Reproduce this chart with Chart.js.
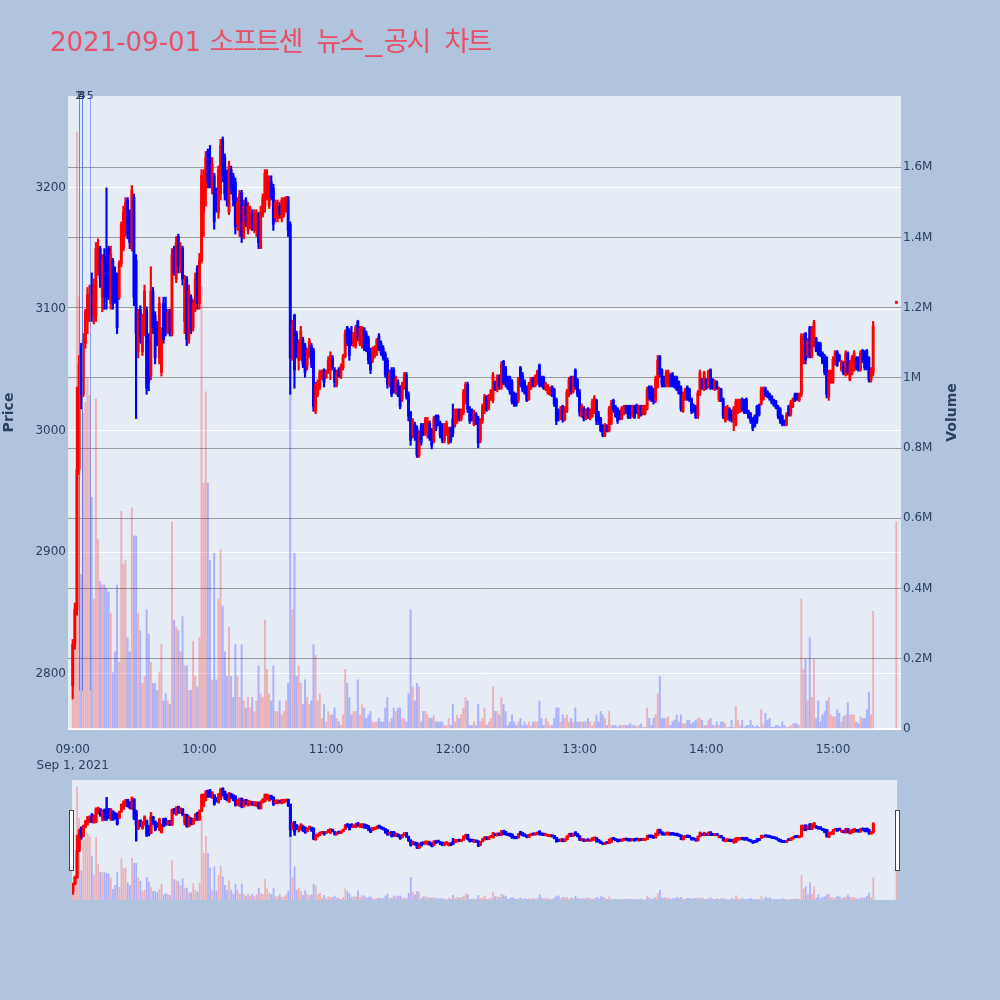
<!DOCTYPE html>
<html>
<head>
<meta charset="utf-8">
<script src="https://cdn.jsdelivr.net/npm/chart.js@4.4.1/dist/chart.umd.min.js"></script>
<style>
html,body{margin:0;padding:0;background:#b0c4de;width:1000px;height:1000px;overflow:hidden;}
#main{position:absolute;left:0;top:0;}
#slider{position:absolute;left:62px;top:775px;}
</style>
</head>
<body>
<canvas id="main" width="1000" height="1000"></canvas>
<canvas id="slider" width="845" height="130"></canvas>
<script>
// ---------------- DATA ----------------
const chartTitle = '2021-09-01 소프트센 뉴스_공시 차트';
const dateLabel = 'Sep 1, 2021';
const xTickLabels = ['09:00','10:00','11:00','12:00','13:00','14:00','15:00'];
const priceTicks = [2800, 2900, 3000, 3100, 3200];
const volumeTicksK = [0, 200, 400, 600, 800, 1000, 1200, 1400, 1600];

// one-minute candles 09:00 .. 15:19, plus closing auction 15:30
function pad(n){ return (n < 10 ? '0' : '') + n; }
const times = [];
for (let k = 0; k < 380; k++) times.push(pad(9 + Math.floor(k / 60)) + ':' + pad(k % 60));
times.push('15:30');

const opens = [
2790,2824,2853,2968,3068,3030,3072,3090,3096,3120,
3095,3095,3130,3150,3110,3145,3140,3150,3105,3140,
3130,3128,3110,3138,3150,3165,3190,3180,3150,3192,
3140,3065,3100,3065,3080,3100,3075,3045,3115,3095,
3085,3060,3048,3105,3100,3082,3098,3080,3150,3125,
3160,3135,3150,3090,3125,3075,3110,3085,3100,3134,
3105,3140,3180,3200,3230,3225,3200,3210,3195,3180,
3195,3240,3225,3210,3180,3215,3210,3205,3170,3165,
3196,3160,3190,3165,3170,3180,3165,3165,3178,3150,
3178,3185,3200,3185,3205,3200,3175,3175,3185,3175,
3178,3182,3192,3170,3061,3095,3080,3058,3061,3075,
3070,3053,3061,3070,3066,3016,3030,3036,3044,3050,
3044,3049,3050,3060,3050,3038,3050,3044,3052,3061,
3085,3082,3075,3070,3070,3090,3072,3070,3084,3080,
3076,3065,3058,3062,3064,3078,3072,3068,3063,3058,
3038,3050,3050,3032,3040,3035,3026,3036,3046,3030,
3015,2996,3005,3002,2980,3004,3004,2998,3000,3006,
3000,2992,3012,3012,3006,3004,2992,2998,2990,3002,
3010,3005,3008,3017,3010,3015,3025,3038,3018,3016,
3005,3014,3010,2992,3008,3016,3028,3018,3027,3025,
3040,3034,3044,3036,3057,3052,3044,3044,3040,3030,
3030,3025,3052,3046,3040,3036,3026,3035,3043,3037,
3040,3054,3044,3044,3034,3031,3030,3036,3034,3026,
3016,3010,3020,3009,3016,3030,3044,3032,3050,3042,
3032,3012,3018,3010,3018,3010,3012,3015,3025,3014,
3010,3004,2996,3004,3000,3006,3025,3020,3018,3016,
3010,3014,3020,3020,3020,3012,3020,3021,3011,3020,
3014,3014,3018,3036,3036,3034,3025,3036,3061,3050,
3044,3038,3038,3046,3046,3044,3044,3040,3036,3016,
3026,3036,3034,3026,3020,3020,3012,3030,3042,3034,
3042,3036,3050,3042,3034,3040,3026,3034,3026,3008,
3010,3018,3016,3008,3005,3015,3016,3026,3025,3026,
3016,3014,3010,3012,3020,3021,3022,3026,3035,3032,
3030,3028,3025,3024,3020,3018,3012,3008,3005,3020,
3014,3020,3030,3030,3025,3030,3056,3080,3062,3085,
3062,3070,3076,3072,3072,3064,3062,3060,3028,3040,
3040,3055,3065,3062,3050,3056,3046,3064,3042,3047,
3050,3060,3060,3050,3066,3065,3066,3060,3042,3048,
3105];

const highs = [
2828,2858,3036,3062,3072,3080,3100,3118,3120,3130,
3125,3155,3158,3152,3145,3150,3200,3152,3152,3142,
3135,3130,3140,3172,3185,3192,3192,3182,3202,3195,
3145,3100,3103,3096,3120,3102,3080,3135,3118,3098,
3090,3110,3085,3110,3110,3100,3100,3150,3152,3160,
3162,3155,3152,3128,3127,3120,3112,3108,3130,3136,
3146,3215,3215,3230,3232,3235,3225,3212,3200,3218,
3240,3242,3228,3215,3222,3218,3212,3208,3192,3198,
3198,3190,3192,3188,3185,3182,3182,3182,3180,3185,
3195,3215,3215,3210,3210,3203,3190,3190,3188,3192,
3192,3193,3193,3172,3091,3096,3082,3075,3086,3077,
3072,3068,3076,3072,3068,3040,3042,3050,3050,3051,
3050,3061,3065,3062,3052,3050,3052,3055,3063,3083,
3086,3084,3086,3081,3087,3091,3086,3086,3085,3082,
3078,3068,3069,3070,3076,3080,3074,3070,3065,3060,
3050,3052,3052,3045,3042,3037,3040,3048,3048,3032,
3016,3010,3007,3004,3000,3006,3006,3011,3011,3008,
3002,3012,3013,3013,3008,3006,3006,3008,3003,3003,
3022,3018,3018,3018,3018,3034,3040,3040,3020,3018,
3017,3015,3012,3010,3022,3030,3029,3030,3034,3048,
3041,3046,3046,3057,3058,3053,3045,3045,3042,3032,
3031,3044,3053,3048,3042,3037,3040,3044,3044,3046,
3050,3055,3045,3045,3040,3038,3036,3037,3035,3027,
3018,3020,3021,3020,3034,3044,3045,3045,3051,3043,
3034,3022,3020,3018,3019,3018,3026,3029,3026,3016,
3011,3005,3006,3005,3020,3025,3026,3021,3019,3017,
3020,3021,3021,3021,3021,3021,3021,3022,3021,3021,
3021,3021,3036,3037,3037,3035,3045,3062,3062,3051,
3045,3050,3050,3047,3048,3045,3045,3041,3037,3032,
3035,3037,3035,3027,3022,3021,3033,3050,3043,3049,
3043,3050,3051,3043,3042,3041,3036,3035,3027,3020,
3021,3019,3017,3020,3026,3026,3026,3027,3026,3027,
3017,3015,3011,3013,3021,3022,3036,3036,3036,3033,
3031,3029,3026,3025,3021,3019,3013,3009,3015,3021,
3025,3027,3031,3031,3031,3080,3080,3081,3076,3086,
3086,3091,3077,3073,3073,3065,3063,3061,3050,3050,
3061,3066,3066,3063,3058,3057,3066,3065,3058,3062,
3066,3061,3061,3066,3067,3066,3067,3061,3052,3090,
3105];

const lows = [
2779,2820,2848,2964,3018,3028,3068,3080,3090,3090,
3088,3090,3128,3118,3098,3100,3100,3108,3100,3100,
3105,3080,3108,3135,3148,3160,3158,3150,3148,3103,
3010,3060,3072,3062,3078,3030,3033,3042,3080,3055,
3070,3055,3045,3072,3078,3080,3078,3078,3128,3122,
3130,3130,3120,3080,3070,3072,3080,3082,3098,3100,
3100,3138,3160,3185,3200,3200,3195,3166,3180,3175,
3190,3205,3190,3185,3178,3195,3185,3162,3165,3160,
3155,3158,3168,3162,3166,3165,3163,3160,3150,3150,
3176,3180,3190,3183,3190,3165,3172,3172,3175,3172,
3176,3180,3160,3030,3058,3035,3060,3050,3058,3052,
3044,3050,3060,3052,3016,3014,3028,3034,3042,3036,
3043,3047,3042,3050,3036,3036,3044,3043,3050,3060,
3070,3058,3070,3069,3068,3074,3070,3068,3066,3065,
3055,3047,3056,3060,3062,3066,3062,3058,3044,3035,
3036,3028,3031,3030,3028,3018,3024,3034,3026,3008,
2988,2994,2992,2978,2978,2988,2996,2996,2994,2992,
2985,2990,3000,3004,2994,2990,2990,2996,2989,2990,
2995,3003,3006,3008,3008,3013,3022,3015,3006,3008,
3004,3005,2986,2990,3006,3014,3016,3017,3025,3023,
3033,3032,3034,3034,3038,3036,3034,3030,3022,3020,
3020,3023,3036,3032,3030,3024,3025,3034,3036,3036,
3038,3036,3036,3034,3033,3030,3029,3028,3020,3005,
3008,3009,3007,3008,3015,3028,3030,3031,3034,3028,
3012,3011,3008,3009,3010,3009,3011,3014,3005,3005,
2999,2995,2995,2999,2999,3005,3015,3011,3006,3009,
3009,3013,3014,3010,3010,3011,3010,3014,3010,3012,
3013,3013,3017,3025,3024,3022,3023,3035,3044,3036,
3036,3036,3036,3036,3036,3035,3033,3030,3016,3015,
3025,3025,3024,3014,3015,3010,3010,3029,3034,3033,
3034,3035,3034,3034,3033,3034,3024,3024,3010,3007,
3009,3008,3007,3000,3004,3014,3015,3016,3014,3014,
3010,3006,3000,3003,3006,3012,3021,3025,3028,3027,
3025,3022,3020,3018,3010,3006,3004,3004,3004,3012,
3012,3019,3024,3025,3024,3028,3055,3055,3060,3060,
3060,3069,3065,3062,3061,3055,3046,3027,3025,3039,
3039,3054,3053,3057,3049,3046,3045,3046,3041,3046,
3049,3050,3049,3049,3056,3050,3050,3040,3040,3045,
3105];

const closes = [
2824,2853,2968,3055,3030,3075,3098,3112,3108,3095,
3120,3150,3150,3125,3140,3110,3110,3115,3145,3105,
3110,3085,3138,3170,3180,3188,3162,3155,3198,3110,
3080,3098,3078,3095,3115,3035,3040,3115,3085,3060,
3072,3105,3080,3075,3082,3098,3080,3145,3130,3155,
3135,3152,3125,3122,3075,3115,3085,3105,3125,3105,
3140,3210,3205,3225,3205,3210,3220,3172,3185,3215,
3235,3210,3195,3190,3218,3198,3190,3168,3188,3195,
3160,3185,3172,3185,3183,3168,3180,3178,3155,3180,
3192,3212,3210,3205,3192,3170,3188,3185,3178,3190,
3188,3192,3165,3060,3088,3050,3062,3072,3082,3055,
3048,3066,3074,3055,3020,3038,3040,3048,3049,3040,
3049,3058,3062,3052,3040,3048,3045,3053,3061,3080,
3072,3062,3072,3080,3085,3076,3084,3084,3068,3066,
3058,3050,3068,3069,3075,3068,3064,3060,3046,3038,
3048,3030,3033,3043,3030,3020,3038,3046,3028,3012,
2992,3008,2995,2980,2998,2990,2998,3010,3008,2994,
2988,3010,3002,3006,2996,2992,3004,3006,3001,2992,
2998,3016,3017,3010,3017,3032,3038,3018,3008,3010,
3015,3006,2990,3008,3020,3028,3018,3029,3033,3046,
3034,3044,3036,3055,3040,3038,3035,3032,3024,3022,
3021,3042,3038,3034,3031,3025,3038,3043,3037,3045,
3049,3038,3037,3035,3039,3037,3035,3029,3022,3008,
3010,3018,3009,3019,3032,3042,3032,3044,3036,3030,
3015,3020,3010,3017,3012,3017,3024,3027,3008,3008,
3000,2996,3004,3000,3018,3022,3017,3012,3008,3010,
3019,3020,3015,3011,3012,3020,3011,3015,3020,3013,
3020,3020,3034,3027,3026,3024,3043,3058,3046,3038,
3037,3048,3048,3037,3038,3036,3034,3031,3018,3030,
3034,3026,3025,3016,3016,3011,3031,3048,3035,3048,
3035,3049,3036,3035,3041,3035,3034,3025,3012,3019,
3019,3010,3009,3018,3024,3025,3025,3018,3015,3016,
3011,3008,3002,3004,3008,3013,3034,3035,3029,3028,
3026,3023,3021,3019,3012,3008,3005,3005,3013,3013,
3023,3026,3025,3026,3030,3078,3076,3058,3074,3062,
3084,3089,3066,3063,3062,3056,3048,3030,3048,3049,
3059,3065,3054,3058,3057,3047,3064,3048,3056,3060,
3064,3051,3050,3064,3058,3052,3052,3042,3050,3086,
3105];

// volume in thousands of shares
const volumesK = [
120,250,1700,1230,440,900,930,1000,950,660,
370,940,540,420,410,410,400,390,330,160,
220,410,190,620,470,480,260,220,630,550,
550,330,280,130,150,340,270,190,130,130,
110,160,240,80,100,80,70,590,310,290,
280,220,320,180,180,110,110,250,150,120,
260,1260,700,960,700,480,140,500,140,370,
510,350,220,150,290,150,90,240,150,90,
240,80,60,90,60,90,50,80,180,100,
90,310,170,100,80,180,50,50,80,40,
50,80,130,960,340,500,150,180,130,70,
140,90,70,80,240,210,80,100,30,70,
20,50,40,40,60,30,20,10,40,170,
130,90,40,50,50,140,40,70,60,30,
40,50,20,20,20,30,20,20,60,90,
20,30,60,50,60,60,30,30,20,100,
340,120,80,130,120,20,50,50,40,30,
30,40,20,20,20,20,10,10,30,10,
70,20,40,30,40,60,90,80,10,10,
20,10,70,20,30,60,10,20,30,120,
50,50,40,90,70,50,10,20,40,20,
10,20,30,10,20,10,20,10,20,20,
20,80,30,10,30,20,10,10,30,60,
60,20,40,30,40,20,30,20,60,20,
20,20,20,20,30,20,10,20,40,20,
50,40,30,10,50,10,10,10,5,10,
10,10,10,10,15,10,10,5,10,15,
5,5,60,30,10,30,40,100,150,30,
30,30,35,10,20,25,40,20,40,15,
15,25,25,15,20,25,30,30,25,10,
10,25,30,10,10,20,10,20,20,15,
5,5,25,5,65,25,10,25,5,10,
10,25,10,5,10,5,55,15,45,25,
30,5,5,10,10,5,20,10,5,5,
10,15,15,15,10,370,170,200,80,260,
90,200,30,80,20,40,50,80,90,40,
35,35,55,45,20,35,40,75,40,40,
40,20,15,35,30,30,55,105,40,335,
590];

// news / disclosure markers
const newsTimes = ['09:02:50','09:02:50','09:04:25','09:04:25','09:08:20'];
const newsLabels = ['1','2','3','4','5'];

// ---------------- BUILD ----------------
function toMin(t){ const p = t.split(':').map(Number); return (p[0]-9)*60 + p[1] + (p[2]||0)/60; }
const xs = times.map(toMin);
const xTickMinutes = xTickLabels.map(toMin);
const isUp = closes.map((c,i) => c >= opens[i]);
const candleColors = isUp.map(u => u ? '#ff0000' : '#0000ff');
const volColors = isUp.map(u => u ? 'rgba(255,0,0,0.25)' : 'rgba(0,0,255,0.25)');

const PRICE_MIN = 2754.3, PRICE_MAX = 3275.7, VOL_MAX = 1802.6;

Chart.defaults.font.family = "'DejaVu Sans', 'Noto Sans CJK KR', sans-serif";
Chart.defaults.font.size = 12;
Chart.defaults.color = '#2a3f5f';

function makeDatasets(volW, wickW, bodyW){
  return [
    { type:'bar', label:'Volume', yAxisID:'y1', order:3, grouped:false,
      data: xs.map((x,i) => ({x:x, y:volumesK[i]})),
      backgroundColor: volColors, borderWidth:0, barThickness: volW },
    { type:'bar', label:'Range', yAxisID:'y', order:2, grouped:false, minBarLength:2,
      data: xs.map((x,i) => ({x:x, y:[lows[i], highs[i]]})),
      backgroundColor: candleColors, borderWidth:0, barThickness: wickW },
    { type:'bar', label:'Body', yAxisID:'y', order:1, grouped:false, minBarLength:2,
      data: xs.map((x,i) => ({x:x, y:[opens[i], closes[i]]})),
      backgroundColor: candleColors, borderWidth:0, barThickness: bodyW }
  ];
}

const plotBg = {
  id:'plotBg',
  beforeDraw(c){
    const a = c.chartArea, ctx = c.ctx;
    ctx.save(); ctx.fillStyle = '#e5ecf6';
    ctx.fillRect(a.left, a.top, a.right-a.left, a.bottom-a.top);
    ctx.restore();
  }
};

function isHangul(ch){ return /[\uAC00-\uD7AF\u3130-\u318F]/.test(ch); }
function drawTitle(ctx, text, x0, base){
  const latin = "26px 'DejaVu Sans', sans-serif";
  const hangul = "27px 'Noto Sans CJK KR', sans-serif";
  const HANGUL_ADV = 23, SPACE_LATIN = 9.2, SPACE_HANGUL = 15, UNDERSCORE_ADV = 21;
  let x = x0;
  for (let i = 0; i < text.length; i++) {
    const ch = text[i];
    const prevHangul = i > 0 && isHangul(text[i-1]);
    if (isHangul(ch)) {
      ctx.font = hangul; ctx.textAlign = 'center';
      ctx.fillText(ch, x + HANGUL_ADV / 2, base + 0.5);
      x += HANGUL_ADV;
    } else if (ch === ' ') {
      x += prevHangul ? SPACE_HANGUL : SPACE_LATIN;
    } else if (ch === '_') {
      ctx.font = latin; ctx.textAlign = 'left';
      ctx.save(); ctx.translate(x + 2, base); ctx.scale(1.3, 1); ctx.fillText('_', 0, 0); ctx.restore();
      x += UNDERSCORE_ADV;
    } else {
      ctx.font = latin; ctx.textAlign = 'left';
      ctx.fillText(ch, x, base);
      x += ctx.measureText(ch).width;
    }
  }
}

const decorations = {
  id:'decorations',
  afterDatasetsDraw(c){
    const ctx = c.ctx, a = c.chartArea, sx = c.scales.x, sy = c.scales.y;
    ctx.save();
    ctx.strokeStyle = 'rgba(70,105,235,0.55)';
    ctx.lineWidth = 1;
    const yb = sy.getPixelForValue(2786);
    newsTimes.forEach(t => {
      const px = Math.round(sx.getPixelForValue(toMin(t))) + 0.5;
      ctx.beginPath(); ctx.moveTo(px, a.top); ctx.lineTo(px, yb); ctx.stroke();
    });
    ctx.restore();
  },
  afterDraw(c){
    const ctx = c.ctx, a = c.chartArea, sx = c.scales.x;
    ctx.save();
    // title
    ctx.fillStyle = '#e94f66';
    ctx.textBaseline = 'alphabetic';
    drawTitle(ctx, chartTitle, 50, 50.5);
    // news labels
    ctx.fillStyle = '#2a3f5f';
    ctx.font = "11px 'DejaVu Sans', sans-serif";
    ctx.textAlign = 'center'; ctx.textBaseline = 'middle';
    newsTimes.forEach((t,i) => {
      ctx.fillText(newsLabels[i], sx.getPixelForValue(toMin(t)), a.top + 0.5);
    });
    // axis titles
    ctx.font = "bold 14px 'DejaVu Sans', sans-serif";
    const cy = (a.top + a.bottom) / 2;
    ctx.translate(9.5, cy); ctx.rotate(-Math.PI/2);
    ctx.fillText('Price', 0, 0);
    ctx.setTransform(1,0,0,1,0,0);
    ctx.translate(952.5, cy); ctx.rotate(-Math.PI/2);
    ctx.fillText('Volume', 0, 0);
    ctx.restore();
  }
};

new Chart(document.getElementById('main'), {
  type: 'bar',
  data: { datasets: makeDatasets(1.3, 1.5, 2.2) },
  options: {
    responsive:false, animation:false, devicePixelRatio:1,
    layout:{ padding:{ top:96, left:0, right:38, bottom:220 } },
    plugins:{ legend:{display:false}, tooltip:{enabled:false} },
    scales:{
      x:{ type:'linear', min:-2.23, max:392.2, offset:false,
          grid:{ display:false, offset:false }, border:{display:false},
          afterBuildTicks: s => { s.ticks = xTickMinutes.map(v => ({value:v})); },
          afterFit: s => { s.height = 51; },
          ticks:{ autoSkip:false, maxRotation:0, padding:5,
                  font:{ size:12, lineHeight:1.333 },
                  callback: v => { const i = xTickMinutes.indexOf(v); if (i < 0) return '';
                                   return i === 0 ? [xTickLabels[0], dateLabel] : xTickLabels[i]; } } },
      y:{ type:'linear', position:'left', min:PRICE_MIN, max:PRICE_MAX, beginAtZero:false,
          grid:{ color:'#ffffff', lineWidth:1, drawTicks:false }, border:{display:false},
          afterBuildTicks: s => { s.ticks = priceTicks.map(v => ({value:v})); },
          afterFit: s => { s.width = 68; },
          ticks:{ padding:2, callback: v => String(v) } },
      y1:{ type:'linear', position:'right', min:0, max:VOL_MAX, beginAtZero:false,
           grid:{ color: c => (c.tick && c.tick.value === 0) ? '#ffffff' : '#999999',
                  lineWidth: c => (c.tick && c.tick.value === 0) ? 2 : 1, drawTicks:false },
           border:{display:false},
           afterBuildTicks: s => { s.ticks = volumeTicksK.map(v => ({value:v})); },
           afterFit: s => { s.width = 61; },
           ticks:{ padding:2, callback: v => v === 0 ? '0' : (+(v/1000).toFixed(1)) + 'M' } }
    }
  },
  plugins:[plotBg, decorations]
});

const sliderHandles = {
  id:'sliderHandles',
  afterDraw(c){
    const ctx = c.ctx, a = c.chartArea;
    const cy = (a.top + a.bottom) / 2;
    ctx.save();
    ctx.fillStyle = '#ffffff'; ctx.strokeStyle = '#444444'; ctx.lineWidth = 1;
    [a.left - 2.5, a.right - 1.5].forEach(x => {
      ctx.fillRect(x, cy - 29.5, 4, 60);
      ctx.strokeRect(x, cy - 29.5, 4, 60);
    });
    ctx.restore();
  }
};

new Chart(document.getElementById('slider'), {
  type: 'bar',
  data: { datasets: makeDatasets(1.1, 1.8, 2.4) },
  options: {
    responsive:false, animation:false, devicePixelRatio:1,
    layout:{ padding:{ top:5, bottom:5, left:10, right:10 } },
    plugins:{ legend:{display:false}, tooltip:{enabled:false} },
    scales:{
      x:{ type:'linear', display:false, min:-0.4, max:390.2, offset:false },
      y:{ type:'linear', display:false, min:PRICE_MIN, max:PRICE_MAX, beginAtZero:false },
      y1:{ type:'linear', display:false, min:0, max:VOL_MAX, beginAtZero:false }
    }
  },
  plugins:[plotBg, sliderHandles]
});
</script>
</body>
</html>
